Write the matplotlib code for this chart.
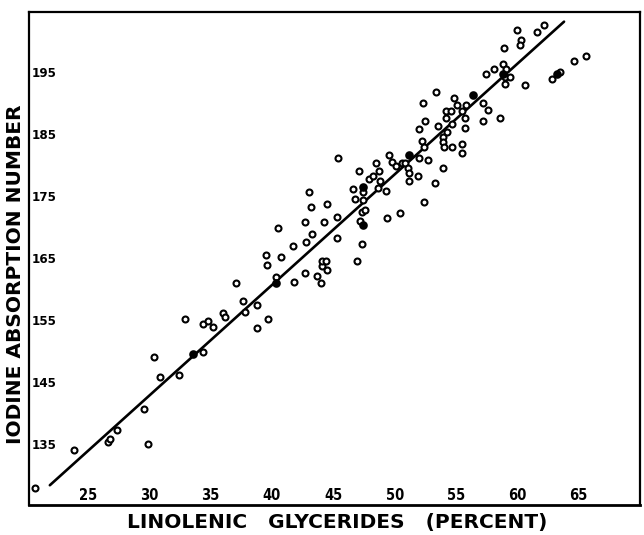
import matplotlib
matplotlib.use('Agg')
import matplotlib.pyplot as plt

# linolenic glycerides (%) vs iodine absorption number
lin_pct = [20.7, 23.9, 26.6, 26.8, 27.4, 29.6, 29.9, 30.4, 30.9, 32.4,
           34.4, 32.9, 34.4, 34.8, 35.2, 36.0, 36.2, 37.1, 37.6, 37.8,
           38.8, 38.8, 39.7, 39.5, 39.6, 40.3, 40.5, 40.7, 41.7, 41.8,
           42.7, 42.8, 42.7, 43.0, 43.2, 43.3, 43.7, 44.0, 44.1, 44.1,
           44.4, 44.5, 44.5, 44.2, 45.3, 45.3, 45.4, 46.9, 47.3, 47.2,
           47.3, 47.6, 46.8, 46.6, 47.4, 47.4, 47.1, 47.9, 48.2, 48.5,
           48.7, 48.8, 48.6, 49.3, 49.4, 50.4, 49.5, 49.8, 50.1, 50.6,
           50.8, 51.1, 51.2, 51.2, 51.9, 52.0, 52.2, 52.4, 52.7, 52.0,
           52.5, 52.3, 53.4, 53.9, 53.3, 52.4, 53.5, 53.9, 53.9, 54.0,
           54.3, 54.2, 54.6, 54.2, 54.7, 54.7, 54.8, 55.1, 55.5, 55.8,
           55.7, 55.7, 55.5, 55.5, 57.2, 57.2, 57.6, 58.6, 57.4, 58.1,
           58.8, 58.9, 59.1, 59.0, 59.4, 59.0, 60.0, 60.3, 60.2, 60.6,
           61.6, 62.2, 62.8, 63.5, 64.6, 65.6]
iodine_no = [128.0, 134.2, 135.5, 136.0, 137.4, 140.8, 135.2, 149.2, 146.0, 146.3,
             150.0, 155.4, 154.6, 155.1, 154.1, 156.4, 155.7, 161.1, 158.3, 156.5,
             157.7, 153.9, 155.4, 165.7, 164.1, 162.2, 170.1, 165.3, 167.2, 161.4,
             162.8, 167.8, 171.1, 175.8, 173.5, 169.1, 162.3, 161.1, 164.0, 164.8,
             164.8, 163.2, 174.0, 171.1, 171.9, 168.5, 181.3, 164.8, 167.5, 171.2,
             172.7, 173.0, 174.8, 176.4, 175.9, 174.6, 179.3, 177.9, 178.4, 180.6,
             179.2, 177.7, 176.6, 176.1, 171.7, 172.5, 181.9, 180.8, 180.0, 180.5,
             180.6, 179.8, 179.0, 177.7, 178.4, 181.3, 184.2, 183.2, 181.1, 186.1,
             187.3, 190.3, 192.0, 179.7, 177.4, 174.3, 186.5, 184.8, 183.9, 183.2,
             185.5, 189.0, 189.0, 187.9, 186.8, 183.2, 191.1, 189.9, 189.0, 190.0,
             187.9, 186.3, 183.7, 182.2, 190.3, 187.4, 189.2, 187.8, 195.0, 195.8,
             196.5, 199.1, 195.7, 194.4, 194.4, 193.3, 202.0, 200.4, 199.6, 193.1,
             201.7, 202.8, 194.2, 195.2, 197.1, 197.9]

# blotted (solid) points
lin_solid = [33.55, 40.3, 47.4, 47.4, 51.2, 56.4, 58.8, 63.2]
iod_solid = [149.7, 161.2, 170.6, 176.7, 181.9, 191.5, 194.9, 195.0]

# fitted line end points
fit_x = [21.9, 63.8]
fit_y = [128.5, 203.4]

x_ticks = [25, 30, 35, 40, 45, 50, 55, 60, 65]
y_ticks = [135, 145, 155, 165, 175, 185, 195]

fig = plt.figure(figsize=(6.44, 5.35), dpi=100)
ax = fig.add_axes([0.045, 0.056, 0.949, 0.922])

ax.plot(fit_x, fit_y, color='black', lw=1.9, solid_capstyle='round')
ax.plot(lin_pct, iodine_no, 'o', ms=4.3, mfc='white', mec='black', mew=1.5)
ax.plot(lin_solid, iod_solid, 'o', ms=5.0, mfc='black', mec='black', mew=1.2)

ax.set_xlim(20.2, 70.0)
ax.set_ylim(125.3, 205.0)
ax.set_xticks([])
ax.set_yticks([])
for s in ax.spines.values():
    s.set_linewidth(1.6)
ax.spines['bottom'].set_linewidth(2.0)

# tick labels sit inside the frame
for v in y_ticks:
    ax.text(0.004, v, str(v), transform=ax.get_yaxis_transform(),
            ha='left', va='center', fontsize=9.5, fontweight='bold',
            fontstretch='condensed')
for v in x_ticks:
    ax.text(v, 0.004, str(v), transform=ax.get_xaxis_transform(),
            ha='center', va='bottom', fontsize=10.5, fontweight='bold',
            fontstretch='condensed')

fig.text(0.523, 0.024, 'LINOLENIC   GLYCERIDES   (PERCENT)', ha='center',
         va='center', fontsize=14.5, fontweight='bold')
fig.text(0.024, 0.487, 'IODINE ABSORPTION NUMBER', rotation=90,
         ha='center', va='center', fontsize=14.5, fontweight='bold')

fig.savefig('out.png', dpi=100)
